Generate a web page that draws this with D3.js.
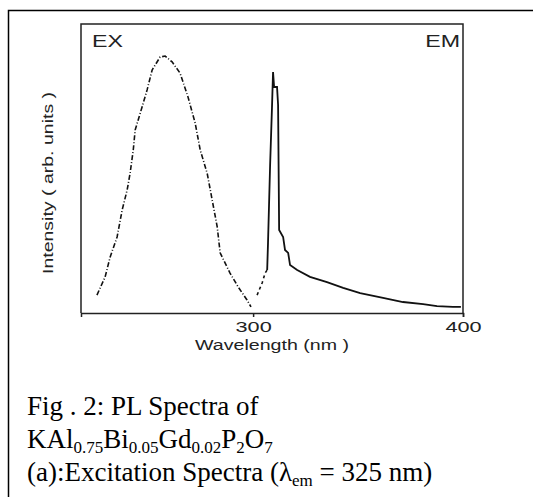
<!DOCTYPE html>
<html>
<head>
<meta charset="utf-8">
<script src="https://cdn.jsdelivr.net/npm/d3@7"></script>
<style>
	body { margin: 0; background: #fff; }
	svg { display: block; }
	.axis-text { font-family: "Liberation Sans", Arial, sans-serif; font-size: 14px; fill: #222; }
	.caption { font-family: "Liberation Serif", "Times New Roman", serif; font-size: 27px; fill: #000; }
</style>
</head>
<body>
<div id="chart"></div>
<script>

/* wavelength (nm) and intensity (arb.) */
var ex_wl = [225.6, 229.5, 231.9, 235.2, 237.6, 240.0, 241.4, 242.9, 243.8, 247.1, 249.5, 251.9, 255.7, 258.1,
	261.4, 265.2, 269.0, 272.4, 274.8, 278.1, 280.5, 282.9, 284.3, 289.0, 292.9, 297.1, 299.0]
var ex_int = [6.2, 12.5, 19.4, 26.3, 35.6, 42.6, 48.4, 56.4, 63.3, 71.3, 77.2, 84.1, 88.6, 88.9,
	86.9, 83.0, 74.7, 65.7, 56.4, 48.4, 39.1, 29.8, 20.8, 13.8, 9.0, 4.5, 2.1]

var em_wl = [301.9, 304.3, 305.7, 306.7, 307.1, 308.1, 309.0, 309.5, 310.0, 311.4, 311.9, 312.4, 314.3, 315.2,
	316.7, 317.6, 321.0, 327.1, 335.2, 342.9, 351.0, 361.9, 371.4, 381.0, 387.6, 395.2, 399.0]
var em_int = [6.2, 10.4, 13.8, 14.9, 24.2, 51.2, 71.3, 83.4, 78.2, 78.2, 72.0, 28.7, 26.3, 21.8,
	20.8, 16.6, 14.9, 12.5, 10.7, 8.7, 6.9, 5.2, 3.8, 3.1, 2.4, 2.1, 2.1]

var x_ticks = [300, 400]
var x_domain = [218, 400]

var caption_lines = ["Fig . 2: PL Spectra of", "KAl0.75Bi0.05Gd0.02P2O7", "(a):Excitation Spectra (λem = 325 nm)"]

var W = 533, H = 497
var margin = {top: 24, right: 70, bottom: 184, left: 81}
var width = W - margin.left - margin.right
var height = H - margin.top - margin.bottom

/* the scan's sans text is wide, stretch it */
var stretch = function(sel, k){
	sel.each(function(){
		var len = this.getComputedTextLength()
		d3.select(this)
			.attr("textLength", len * k)
			.attr("lengthAdjust", "spacingAndGlyphs")
	})
}

var svg = d3.select("#chart")
	.append("svg")
	.attr("width", W)
	.attr("height", H)

/* outer frame, runs off the right and bottom of the picture */
svg.append("rect")
	.attr("x", 8.5)
	.attr("y", 10.5)
	.attr("width", 600)
	.attr("height", 600)
	.attr("fill", "none")
	.attr("stroke", "#000")
	.attr("stroke-width", 1.5)

var g = svg.append("g")
	.attr("transform", "translate(" + margin.left + "," + margin.top + ")")

var x = d3.scaleLinear().domain(x_domain).range([0, width])
var y = d3.scaleLinear().domain([0, 100]).range([height, 0])

/* box: left, top, right */
g.append("path")
	.attr("d", "M0," + height + "V0H" + width + "V" + height)
	.attr("fill", "none")
	.attr("stroke", "#222")
	.attr("stroke-width", 1.5)

var xAxis = g.append("g")
	.attr("transform", "translate(0," + height + ")")
	.call(d3.axisBottom(x).tickValues(x_ticks).tickSize(4).tickSizeOuter(4).tickFormat(d3.format("d")))

xAxis.attr("font-family", null).attr("font-size", null)
xAxis.select(".domain").attr("stroke", "#222").attr("stroke-width", 1.5)
xAxis.selectAll(".tick line").attr("stroke", "#222").attr("stroke-width", 1.5)
xAxis.selectAll(".tick text")
	.attr("class", "axis-text")
	.attr("y", 9)
	.attr("dy", "0.71em")
	.call(stretch, 1.55)

g.append("text")
	.attr("class", "axis-text")
	.attr("x", width / 2)
	.attr("y", height + 37)
	.attr("text-anchor", "middle")
	.text("Wavelength (nm )")
	.call(stretch, 1.4)

g.append("text")
	.attr("class", "axis-text")
	.attr("transform", "rotate(-90)")
	.attr("x", -(183 - margin.top))
	.attr("y", 48 - margin.left)
	.attr("dy", "0.35em")
	.attr("text-anchor", "middle")
	.style("font-size", "15px")
	.text("Intensity ( arb. units )")
	.call(stretch, 1.3)

g.append("text")
	.attr("class", "axis-text")
	.attr("x", 11)
	.attr("y", 23)
	.style("font-size", "16px")
	.text("EX")
	.call(stretch, 1.45)

g.append("text")
	.attr("class", "axis-text")
	.attr("x", width - 3)
	.attr("y", 23)
	.attr("text-anchor", "end")
	.style("font-size", "16px")
	.text("EM")
	.call(stretch, 1.45)

var line = d3.line()
	.x(function(d) { return x(d[0]); })
	.y(function(d) { return y(d[1]); })

var ex_data = d3.zip(ex_wl, ex_int)
var em_data = d3.zip(em_wl, em_int)

g.append("path")
	.datum(ex_data)
	.attr("d", line)
	.attr("fill", "none")
	.attr("stroke", "#111")
	.attr("stroke-width", 1.6)
	.attr("stroke-dasharray", "5,2,1,2")

/* emission: sparse start then solid */
g.append("path")
	.datum(em_data.slice(0, 4))
	.attr("d", line)
	.attr("fill", "none")
	.attr("stroke", "#111")
	.attr("stroke-width", 1.6)
	.attr("stroke-dasharray", "3,3")

g.append("path")
	.datum(em_data.slice(3))
	.attr("d", line)
	.attr("fill", "none")
	.attr("stroke", "#111")
	.attr("stroke-width", 1.8)

/* caption with subscripts */
var cap = svg.append("text")
	.attr("class", "caption")
	.attr("x", 27)
	.attr("y", 415)

cap.append("tspan").text(caption_lines[0])

var l2 = cap.append("tspan").attr("x", 27).attr("y", 448)
var parts = [["KAl", ""], ["0.75", "sub"], ["Bi", ""], ["0.05", "sub"], ["Gd", ""], ["0.02", "sub"], ["P", ""], ["2", "sub"], ["O", ""], ["7", "sub"]]
parts.forEach(function(p){
	l2.append("tspan")
		.attr("font-size", p[1] == "sub" ? "17px" : null)
		.attr("baseline-shift", p[1] == "sub" ? "-5" : null)
		.text(p[0])
})

var l3 = cap.append("tspan").attr("x", 27).attr("y", 481)
l3.append("tspan").text("(a):Excitation Spectra (λ")
l3.append("tspan").attr("font-size", "17px").attr("baseline-shift", "-5").text("em")
l3.append("tspan").text(" = 325 nm)")

</script>
</body>
</html>
